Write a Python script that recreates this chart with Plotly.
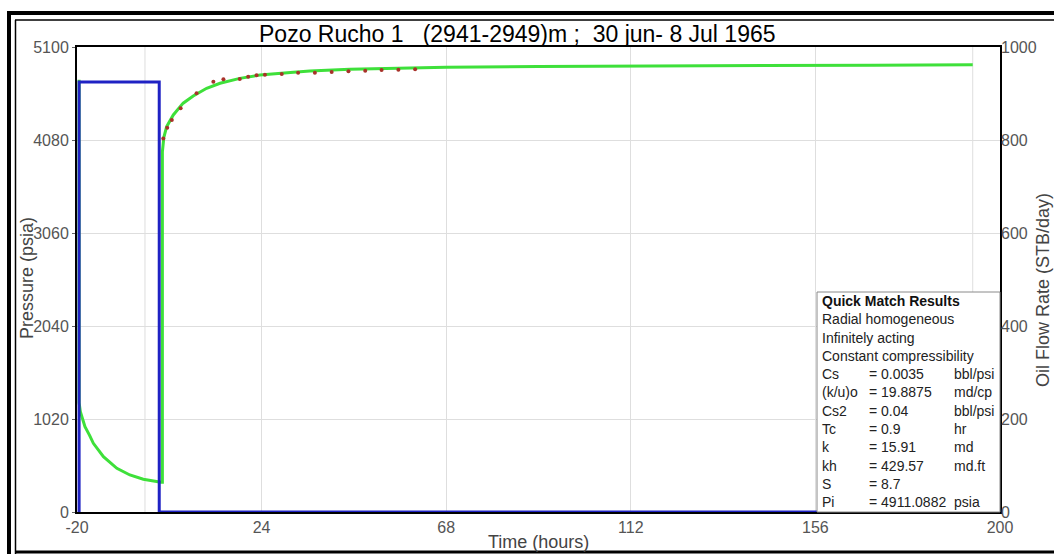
import plotly.graph_objects as go

# ---------------- data ----------------
# simulated (model) pressure, psia
model_time = [-19.5, -19.5, -19.2, -18.6, -18.1, -17.0, -16.1, -13.7, -10.5, -7.4, -4.2, 0.0,
              0.35, 0.35, 0.7, 1.37, 2.95, 5.3, 7.7, 10.9, 14.1, 18.8, 23.6, 31.6, 35.5,
              45, 60, 68, 90, 112, 140, 170, 193.5]
model_pressure = [4740, 1200, 1100, 1000, 936, 840, 753, 606, 479, 406, 359, 326,
                  326, 3950, 4110, 4226, 4355, 4484, 4563, 4647, 4702, 4756, 4793, 4822, 4837,
                  4855, 4870, 4877, 4886, 4892, 4897, 4901, 4904]

# measured pressure points, psia
obs_time = [0.57, 1.5, 2.6, 4.7, 8.5, 12.5, 14.9, 18.8, 20.8, 22.8, 24.8, 28.8, 32.7,
            36.7, 40.7, 44.7, 48.7, 52.6, 56.6, 60.6]
obs_pressure = [4097, 4215, 4300, 4428, 4592, 4720, 4746, 4749, 4774, 4789, 4796, 4804, 4818,
                4818, 4826, 4834, 4840, 4848, 4851, 4855]

# oil flow rate, STB/day
rate_time = [-19.5, -19.5, -0.4, -0.4, 200]
rate_value = [0, 925, 925, 0, 0]

x_ticks = [-20, 24, 68, 112, 156, 200]
y_ticks = [0, 1020, 2040, 3060, 4080, 5100]
y2_ticks = [0, 200, 400, 600, 800, 1000]
extra_grid_times = [-3.8, 193.5]

title_text = "Pozo Rucho 1   (2941-2949)m ;  30 jun- 8 Jul 1965"
box_title = "Quick Match Results"
box_lines = ["Radial homogeneous", "Infinitely acting", "Constant compressibility"]
param_names = ["Cs", "(k/u)o", "Cs2", "Tc", "k", "kh", "S", "Pi"]
param_values = ["= 0.0035", "= 19.8875", "= 0.04", "= 0.9", "= 15.91", "= 429.57", "= 8.7", "= 4911.0882"]
param_units = ["bbl/psi", "md/cp", "bbl/psi", "hr", "md", "md.ft", "", "psia"]

# ---------------- layout geometry ----------------
W, H = 1054, 554
PLOT_L, PLOT_R, PLOT_T, PLOT_B = 77, 1000, 47, 512
L, T = PLOT_L, PLOT_T
R, B = W - PLOT_R, H - PLOT_B
PW, PH = PLOT_R - PLOT_L, PLOT_B - PLOT_T


def px(xp):
    return (xp - PLOT_L) / PW


def py(yp):
    return (PLOT_B - yp) / PH


FONT = "Liberation Sans, Arial, sans-serif"

fig = go.Figure()

fig.add_trace(go.Scatter(x=rate_time, y=rate_value, yaxis="y2", mode="lines",
                         line=dict(color="#1f22c4", width=3), showlegend=False))
fig.add_trace(go.Scatter(x=model_time, y=model_pressure, mode="lines",
                         line=dict(color="#3ee03a", width=3), showlegend=False))
fig.add_trace(go.Scatter(x=obs_time, y=obs_pressure, mode="markers",
                         marker=dict(color="#a8322a", size=4), showlegend=False))

shapes = []
for t in extra_grid_times:
    shapes.append(dict(type="line", xref="x", yref="paper", x0=t, x1=t, y0=0, y1=1,
                       line=dict(color="#dedede", width=1), layer="below"))

# quick match results box
shapes.append(dict(type="rect", xref="paper", yref="paper", x0=px(817), x1=px(1000),
                   y0=py(512), y1=py(292), fillcolor="white",
                   line=dict(color="#8a8a8a", width=1), layer="above"))

# outer screenshot frame
shapes += [
    dict(type="line", xref="paper", yref="paper", x0=px(7), x1=px(1060), y0=py(13), y1=py(13),
         line=dict(color="black", width=4)),
    dict(type="line", xref="paper", yref="paper", x0=px(9), x1=px(9), y0=py(11), y1=py(560),
         line=dict(color="black", width=4)),
    dict(type="line", xref="paper", yref="paper", x0=px(15), x1=px(1060), y0=py(20), y1=py(20),
         line=dict(color="black", width=1.5)),
    dict(type="line", xref="paper", yref="paper", x0=px(15.5), x1=px(15.5), y0=py(20), y1=py(560),
         line=dict(color="black", width=1.5)),
    dict(type="line", xref="paper", yref="paper", x0=px(15), x1=px(1060), y0=py(552), y1=py(552),
         line=dict(color="black", width=3)),
]

annotations = [
    dict(text=title_text, x=px(517), y=py(34), xref="paper", yref="paper", showarrow=False,
         xanchor="center", yanchor="middle", font=dict(family=FONT, size=23, color="black")),
    dict(text="Pressure (psia)", x=px(27), y=py(278), xref="paper", yref="paper", showarrow=False,
         textangle=-90, xanchor="center", yanchor="middle", font=dict(family=FONT, size=18, color="#444")),
    dict(text="Oil Flow Rate (STB/day)", x=px(1043), y=py(290), xref="paper", yref="paper",
         showarrow=False, textangle=-90, xanchor="center", yanchor="middle",
         font=dict(family=FONT, size=18, color="#444")),
    dict(text="Time (hours)", x=px(538), y=py(542), xref="paper", yref="paper", showarrow=False,
         xanchor="center", yanchor="middle", font=dict(family=FONT, size=18, color="#444")),
]

line_y0, dy = 301, 18.3
BOX_FS = 14
annotations.append(dict(text="<b>" + box_title + "</b>", x=px(820), y=py(line_y0), xref="paper",
                        yref="paper", showarrow=False, xanchor="left", yanchor="middle",
                        font=dict(family=FONT, size=BOX_FS, color="#111")))
for i, s in enumerate(box_lines):
    annotations.append(dict(text=s, x=px(820), y=py(line_y0 + dy * (i + 1)), xref="paper",
                            yref="paper", showarrow=False, xanchor="left", yanchor="middle",
                            font=dict(family=FONT, size=BOX_FS, color="#222")))
for j, (n, v, u) in enumerate(zip(param_names, param_values, param_units)):
    yy = py(line_y0 + dy * (j + 1 + len(box_lines)))
    for xx, s in ((820, n), (867, v), (952, u)):
        if s:
            annotations.append(dict(text=s, x=px(xx), y=yy, xref="paper", yref="paper",
                                    showarrow=False, xanchor="left", yanchor="middle",
                                    font=dict(family=FONT, size=BOX_FS, color="#222")))

fig.update_layout(
    width=W, height=H, margin=dict(l=L, r=R, t=T, b=B, autoexpand=False),
    paper_bgcolor="white", plot_bgcolor="white",
    xaxis=dict(range=[-20, 200], tickvals=x_ticks, ticktext=[str(v) for v in x_ticks],
               showgrid=True, gridcolor="#dedede", gridwidth=1, zeroline=False,
               showline=True, linecolor="black", linewidth=2, mirror=True,
               ticks="", tickfont=dict(family=FONT, size=16, color="#555"),
               layer="below traces"),
    yaxis=dict(range=[0, 5100], tickvals=y_ticks, ticktext=[str(v) for v in y_ticks],
               showgrid=True, gridcolor="#dedede", gridwidth=1, zeroline=False,
               showline=True, linecolor="black", linewidth=2, mirror=True,
               ticks="outside", ticklen=3, tickcolor="#666", ticklabelstandoff=0,
               tickfont=dict(family=FONT, size=16, color="#555"), layer="below traces"),
    yaxis2=dict(range=[0, 1000], tickvals=y2_ticks, ticktext=[str(v) for v in y2_ticks],
                overlaying="y", side="right", showgrid=False, zeroline=False, showline=False,
                ticks="", tickfont=dict(family=FONT, size=16, color="#555")),
    shapes=shapes, annotations=annotations,
)

# remove the default 8px body margin so the 1054x554 figure fills the window exactly
fig.write_html("out.html", config={"displayModeBar": False},
               post_script="document.body.style.margin='0px';")
